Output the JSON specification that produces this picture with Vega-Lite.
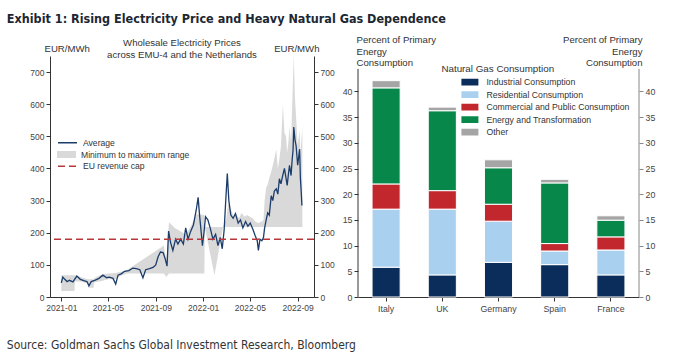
{
  "$schema": "https://vega.github.io/schema/vega-lite/v6.json",
  "padding": {"left": 6, "top": 13, "right": 4, "bottom": 4},
  "title": {"text": "Exhibit 1: Rising Electricity Price and Heavy Natural Gas Dependence", "anchor": "start", "font": "Liberation Sans Narrow, DejaVu Sans Condensed, Roboto", "fontSize": 12.5, "fontWeight": "bold", "color": "#1c2733", "offset": 9},
  "datasets": {
    "avg": [
      {"d": "2021-01-01", "v": 44}, {"d": "2021-01-05", "v": 62}, {"d": "2021-01-10", "v": 55}, {"d": "2021-01-16", "v": 48},
      {"d": "2021-01-22", "v": 52}, {"d": "2021-01-31", "v": 47}, {"d": "2021-02-10", "v": 65}, {"d": "2021-02-19", "v": 55},
      {"d": "2021-03-02", "v": 50}, {"d": "2021-03-08", "v": 48}, {"d": "2021-03-13", "v": 35}, {"d": "2021-03-19", "v": 48},
      {"d": "2021-03-28", "v": 52}, {"d": "2021-04-08", "v": 58}, {"d": "2021-04-18", "v": 68}, {"d": "2021-04-28", "v": 60},
      {"d": "2021-05-05", "v": 62}, {"d": "2021-05-14", "v": 58}, {"d": "2021-05-21", "v": 40}, {"d": "2021-05-27", "v": 68},
      {"d": "2021-06-04", "v": 72}, {"d": "2021-06-13", "v": 80}, {"d": "2021-06-24", "v": 82}, {"d": "2021-07-04", "v": 90},
      {"d": "2021-07-13", "v": 88}, {"d": "2021-07-22", "v": 85}, {"d": "2021-07-30", "v": 60}, {"d": "2021-08-06", "v": 85},
      {"d": "2021-08-16", "v": 88}, {"d": "2021-08-25", "v": 92}, {"d": "2021-09-01", "v": 100}, {"d": "2021-09-07", "v": 125},
      {"d": "2021-09-13", "v": 140}, {"d": "2021-09-20", "v": 138}, {"d": "2021-09-25", "v": 120}, {"d": "2021-09-30", "v": 96},
      {"d": "2021-10-04", "v": 205}, {"d": "2021-10-09", "v": 170}, {"d": "2021-10-15", "v": 145}, {"d": "2021-10-22", "v": 180},
      {"d": "2021-10-28", "v": 165}, {"d": "2021-11-04", "v": 180}, {"d": "2021-11-11", "v": 165}, {"d": "2021-11-17", "v": 215},
      {"d": "2021-11-23", "v": 180}, {"d": "2021-11-30", "v": 205}, {"d": "2021-12-07", "v": 225}, {"d": "2021-12-14", "v": 270},
      {"d": "2021-12-19", "v": 310}, {"d": "2021-12-23", "v": 250}, {"d": "2021-12-27", "v": 200}, {"d": "2021-12-30", "v": 160},
      {"d": "2022-01-03", "v": 200}, {"d": "2022-01-07", "v": 250}, {"d": "2022-01-13", "v": 240}, {"d": "2022-01-19", "v": 215},
      {"d": "2022-01-26", "v": 180}, {"d": "2022-02-02", "v": 195}, {"d": "2022-02-08", "v": 160}, {"d": "2022-02-14", "v": 185},
      {"d": "2022-02-19", "v": 150}, {"d": "2022-02-24", "v": 210}, {"d": "2022-02-28", "v": 300}, {"d": "2022-03-04", "v": 384},
      {"d": "2022-03-08", "v": 300}, {"d": "2022-03-13", "v": 255}, {"d": "2022-03-19", "v": 245}, {"d": "2022-03-25", "v": 260},
      {"d": "2022-04-01", "v": 230}, {"d": "2022-04-07", "v": 240}, {"d": "2022-04-13", "v": 215}, {"d": "2022-04-20", "v": 235},
      {"d": "2022-04-26", "v": 220}, {"d": "2022-05-02", "v": 230}, {"d": "2022-05-09", "v": 210}, {"d": "2022-05-15", "v": 190},
      {"d": "2022-05-20", "v": 175}, {"d": "2022-05-23", "v": 145}, {"d": "2022-05-27", "v": 180}, {"d": "2022-06-01", "v": 175},
      {"d": "2022-06-05", "v": 185}, {"d": "2022-06-08", "v": 215}, {"d": "2022-06-12", "v": 240}, {"d": "2022-06-16", "v": 262},
      {"d": "2022-06-20", "v": 255}, {"d": "2022-06-25", "v": 315}, {"d": "2022-06-29", "v": 300}, {"d": "2022-07-03", "v": 330},
      {"d": "2022-07-08", "v": 337}, {"d": "2022-07-12", "v": 320}, {"d": "2022-07-16", "v": 368}, {"d": "2022-07-20", "v": 352},
      {"d": "2022-07-24", "v": 375}, {"d": "2022-07-29", "v": 400}, {"d": "2022-08-02", "v": 370}, {"d": "2022-08-05", "v": 347},
      {"d": "2022-08-08", "v": 380}, {"d": "2022-08-11", "v": 410}, {"d": "2022-08-15", "v": 378}, {"d": "2022-08-18", "v": 430},
      {"d": "2022-08-20", "v": 455}, {"d": "2022-08-22", "v": 529}, {"d": "2022-08-25", "v": 490}, {"d": "2022-08-28", "v": 470},
      {"d": "2022-09-01", "v": 410}, {"d": "2022-09-04", "v": 440}, {"d": "2022-09-06", "v": 460}, {"d": "2022-09-08", "v": 370},
      {"d": "2022-09-10", "v": 330}, {"d": "2022-09-12", "v": 285}
    ],
    "band": [
      {"d": "2021-01-01", "lo": 19, "hi": 68}, {"d": "2021-02-04", "lo": 19, "hi": 68}, {"d": "2021-02-05", "lo": 48, "hi": 68},
      {"d": "2021-02-20", "lo": 48, "hi": 62}, {"d": "2021-03-10", "lo": 42, "hi": 55}, {"d": "2021-03-12", "lo": 29, "hi": 55},
      {"d": "2021-03-25", "lo": 29, "hi": 55}, {"d": "2021-03-26", "lo": 45, "hi": 58}, {"d": "2021-04-15", "lo": 50, "hi": 70},
      {"d": "2021-05-01", "lo": 55, "hi": 73}, {"d": "2021-05-20", "lo": 55, "hi": 75}, {"d": "2021-06-01", "lo": 65, "hi": 78},
      {"d": "2021-06-20", "lo": 73, "hi": 85}, {"d": "2021-09-22", "lo": 73, "hi": 160}, {"d": "2021-09-28", "lo": 62, "hi": 110},
      {"d": "2021-10-05", "lo": 73, "hi": 233}, {"d": "2021-10-20", "lo": 73, "hi": 215}, {"d": "2021-11-10", "lo": 73, "hi": 200},
      {"d": "2021-11-18", "lo": 73, "hi": 197}, {"d": "2021-11-28", "lo": 73, "hi": 215}, {"d": "2021-12-08", "lo": 73, "hi": 240},
      {"d": "2021-12-15", "lo": 73, "hi": 258}, {"d": "2022-01-04", "lo": 73, "hi": 255}, {"d": "2022-01-05", "lo": 218, "hi": 218},
      {"d": "2022-01-30", "lo": 68, "hi": 218}, {"d": "2022-02-21", "lo": 218, "hi": 218}, {"d": "2022-03-01", "lo": 218, "hi": 240},
      {"d": "2022-03-06", "lo": 218, "hi": 290}, {"d": "2022-03-10", "lo": 218, "hi": 280}, {"d": "2022-03-15", "lo": 218, "hi": 268},
      {"d": "2022-03-20", "lo": 218, "hi": 250}, {"d": "2022-03-27", "lo": 218, "hi": 258}, {"d": "2022-04-03", "lo": 218, "hi": 245},
      {"d": "2022-04-10", "lo": 218, "hi": 262}, {"d": "2022-04-17", "lo": 218, "hi": 250}, {"d": "2022-04-24", "lo": 218, "hi": 255},
      {"d": "2022-05-01", "lo": 218, "hi": 250}, {"d": "2022-05-08", "lo": 218, "hi": 245}, {"d": "2022-05-15", "lo": 218, "hi": 235},
      {"d": "2022-05-22", "lo": 218, "hi": 230}, {"d": "2022-06-01", "lo": 218, "hi": 235}, {"d": "2022-06-05", "lo": 218, "hi": 240},
      {"d": "2022-06-08", "lo": 218, "hi": 300}, {"d": "2022-06-12", "lo": 218, "hi": 340}, {"d": "2022-06-16", "lo": 218, "hi": 350},
      {"d": "2022-06-20", "lo": 218, "hi": 370}, {"d": "2022-06-25", "lo": 218, "hi": 390}, {"d": "2022-06-29", "lo": 218, "hi": 410},
      {"d": "2022-07-03", "lo": 218, "hi": 430}, {"d": "2022-07-08", "lo": 218, "hi": 460}, {"d": "2022-07-12", "lo": 218, "hi": 400},
      {"d": "2022-07-16", "lo": 218, "hi": 430}, {"d": "2022-07-20", "lo": 218, "hi": 470}, {"d": "2022-07-25", "lo": 218, "hi": 598},
      {"d": "2022-07-29", "lo": 218, "hi": 510}, {"d": "2022-08-02", "lo": 218, "hi": 500}, {"d": "2022-08-05", "lo": 218, "hi": 450},
      {"d": "2022-08-08", "lo": 218, "hi": 480}, {"d": "2022-08-11", "lo": 218, "hi": 530}, {"d": "2022-08-15", "lo": 218, "hi": 480},
      {"d": "2022-08-18", "lo": 218, "hi": 600}, {"d": "2022-08-22", "lo": 218, "hi": 752}, {"d": "2022-08-25", "lo": 218, "hi": 620},
      {"d": "2022-08-28", "lo": 218, "hi": 560}, {"d": "2022-09-01", "lo": 218, "hi": 470}, {"d": "2022-09-04", "lo": 218, "hi": 500},
      {"d": "2022-09-06", "lo": 218, "hi": 520}, {"d": "2022-09-08", "lo": 218, "hi": 440}, {"d": "2022-09-10", "lo": 218, "hi": 480},
      {"d": "2022-09-13", "lo": 218, "hi": 524}
    ],
    "gas": [
      {"country": "Italy", "cat": "Industrial Consumption", "k": 1, "v": 5.8},
      {"country": "Italy", "cat": "Residential Consumption", "k": 2, "v": 11.3},
      {"country": "Italy", "cat": "Commercial and Public Consumption", "k": 3, "v": 4.9},
      {"country": "Italy", "cat": "Energy and Transformation", "k": 4, "v": 18.7},
      {"country": "Italy", "cat": "Other", "k": 5, "v": 1.4},
      {"country": "UK", "cat": "Industrial Consumption", "k": 1, "v": 4.3},
      {"country": "UK", "cat": "Residential Consumption", "k": 2, "v": 12.8},
      {"country": "UK", "cat": "Commercial and Public Consumption", "k": 3, "v": 3.6},
      {"country": "UK", "cat": "Energy and Transformation", "k": 4, "v": 15.55},
      {"country": "UK", "cat": "Other", "k": 5, "v": 0.7},
      {"country": "Germany", "cat": "Industrial Consumption", "k": 1, "v": 6.75},
      {"country": "Germany", "cat": "Residential Consumption", "k": 2, "v": 8.0},
      {"country": "Germany", "cat": "Commercial and Public Consumption", "k": 3, "v": 3.3},
      {"country": "Germany", "cat": "Energy and Transformation", "k": 4, "v": 7.1},
      {"country": "Germany", "cat": "Other", "k": 5, "v": 1.55},
      {"country": "Spain", "cat": "Industrial Consumption", "k": 1, "v": 6.3},
      {"country": "Spain", "cat": "Residential Consumption", "k": 2, "v": 2.65},
      {"country": "Spain", "cat": "Commercial and Public Consumption", "k": 3, "v": 1.45},
      {"country": "Spain", "cat": "Energy and Transformation", "k": 4, "v": 11.8},
      {"country": "Spain", "cat": "Other", "k": 5, "v": 0.7},
      {"country": "France", "cat": "Industrial Consumption", "k": 1, "v": 4.3},
      {"country": "France", "cat": "Residential Consumption", "k": 2, "v": 4.85},
      {"country": "France", "cat": "Commercial and Public Consumption", "k": 3, "v": 2.55},
      {"country": "France", "cat": "Energy and Transformation", "k": 4, "v": 3.25},
      {"country": "France", "cat": "Other", "k": 5, "v": 0.85}
    ]
  },
  "vconcat": [
    {
      "title": {"text": "Source: Goldman Sachs Global Investment Research, Bloomberg", "orient": "bottom", "anchor": "start", "font": "Liberation Sans Narrow, DejaVu Sans Condensed, Roboto", "fontSize": 12, "fontWeight": "normal", "color": "#333333", "dx": -23, "offset": 27},
      "spacing": 7,
      "resolve": {"scale": {"color": "independent"}, "legend": {"color": "independent"}},
      "hconcat": [
        {
          "width": 264,
          "height": 241,
          "title": {"text": ["Wholesale Electricity Prices", "across EMU-4 and the Netherlands"], "fontSize": 9.6, "fontWeight": "normal", "color": "#333333", "anchor": "middle", "offset": -17, "lineHeight": 12},
          "layer": [
            {
              "data": {"name": "band"},
              "mark": {"type": "area", "opacity": 1},
              "encoding": {
                "x": {"field": "d", "type": "temporal",
                  "scale": {"type": "utc", "domain": [{"year": 2020, "month": 12, "date": 3, "utc": true}, {"year": 2022, "month": 10, "date": 13, "utc": true}]},
                  "axis": {"title": null, "format": "%Y-%m", "labelFlush": false,
                    "values": [{"year": 2021, "month": 1, "date": 1, "utc": true}, {"year": 2021, "month": 5, "date": 1, "utc": true}, {"year": 2021, "month": 9, "date": 1, "utc": true}, {"year": 2022, "month": 1, "date": 1, "utc": true}, {"year": 2022, "month": 5, "date": 1, "utc": true}, {"year": 2022, "month": 9, "date": 1, "utc": true}]}},
                "y": {"field": "lo", "type": "quantitative", "scale": {"domain": [0, 750], "nice": false},
                  "axis": {"orient": "left", "values": [0, 100, 200, 300, 400, 500, 600, 700], "title": "EUR/MWh", "titleAngle": 0, "titleAlign": "left", "titleBaseline": "alphabetic", "titleX": -6, "titleY": -5}},
                "y2": {"field": "hi"},
                "fill": {"datum": "Minimum to maximum range",
                  "scale": {"domain": ["Minimum to maximum range"], "range": ["#d9d9d9"]},
                  "legend": {"title": null, "orient": "none", "legendX": 7, "legendY": 93, "padding": 0, "clipHeight": 11,
                    "symbolType": "M-1,-0.36H1V0.36H-1Z", "symbolSize": 361, "symbolStrokeWidth": 0,
                    "labelOffset": 5, "labelFontSize": 8.6, "labelColor": "#333333"}}
              }
            },
            {
              "data": {"name": "avg"},
              "mark": {"type": "line", "strokeWidth": 1.3},
              "encoding": {
                "x": {"field": "d", "type": "temporal"},
                "y": {"field": "v", "type": "quantitative", "scale": {"domain": [0, 750], "nice": false},
                  "axis": {"orient": "right", "values": [0, 100, 200, 300, 400, 500, 600, 700], "title": "EUR/MWh", "titleAngle": 0, "titleAlign": "right", "titleBaseline": "alphabetic", "titleX": 5, "titleY": -5}},
                "stroke": {"datum": "Average",
                  "scale": {"domain": ["Average"], "range": ["#1c3d6b"]},
                  "legend": {"title": null, "orient": "none", "legendX": 7, "legendY": 81.3, "padding": 0, "clipHeight": 11,
                    "symbolType": "stroke", "symbolSize": 361, "symbolStrokeWidth": 1.5,
                    "labelOffset": 5, "labelFontSize": 8.6, "labelColor": "#333333"}}
              }
            },
            {
              "data": {"values": [{}]},
              "mark": {"type": "rule", "strokeWidth": 1.5, "color": "#b9363a"},
              "encoding": {
                "y": {"datum": 180, "axis": null},
                "strokeDash": {"datum": "EU revenue cap",
                  "scale": {"domain": ["EU revenue cap"], "range": [[7, 4]]},
                  "legend": {"title": null, "orient": "none", "legendX": 7, "legendY": 104.7, "padding": 0, "clipHeight": 11,
                    "symbolType": "stroke", "symbolSize": 361, "symbolStrokeWidth": 1.5, "symbolStrokeColor": "#b9363a",
                    "labelOffset": 5, "labelFontSize": 8.6, "labelColor": "#333333"}}
              }
            }
          ],
          "resolve": {"axis": {"y": "independent"}}
        },
        {
          "width": 281,
          "height": 241,
          "layer": [
            {
              "data": {"name": "gas"},
              "mark": {"type": "bar", "stroke": "white", "strokeWidth": 1},
              "encoding": {
                "x": {"field": "country", "type": "nominal", "sort": ["Italy", "UK", "Germany", "Spain", "France"],
                  "scale": {"paddingInner": 0.5, "paddingOuter": 0.25},
                  "axis": {"title": null, "labelAngle": 0, "labelFontSize": 8.8, "labelPadding": 3}},
                "y": {"field": "v", "type": "quantitative", "stack": "zero", "scale": {"domain": [0, 46.9], "nice": false},
                  "axis": {"orient": "left", "values": [0, 5, 10, 15, 20, 25, 30, 35, 40], "domain": false, "labelFontSize": 8.8,
                    "title": ["Percent of Primary", "Energy", "Consumption"], "titleAngle": 0, "titleAlign": "left", "titleBaseline": "top", "titleX": -2, "titleY": -21.4, "titleLineHeight": 11.5}},
                "color": {"field": "cat", "type": "nominal",
                  "scale": {"domain": ["Industrial Consumption", "Residential Consumption", "Commercial and Public Consumption", "Energy and Transformation", "Other"],
                    "range": ["#0b2d5b", "#a9d0ef", "#c1272d", "#07884a", "#a5a5a5"]},
                  "legend": {"title": "Natural Gas Consumption", "orient": "none", "legendX": 83.4, "legendY": 8.3, "padding": 0,
                    "titleFontSize": 9.8, "titleFontWeight": "normal", "titleColor": "#333333", "titlePadding": 2,
                    "symbolType": "M-1,-0.4H1V0.4H-1Z", "symbolSize": 289, "symbolOffset": 20, "symbolStrokeWidth": 0,
                    "clipHeight": 12, "rowPadding": 0.5, "labelOffset": 8, "labelFontSize": 8.7, "labelColor": "#333333"}},
                "order": {"field": "k"}
              }
            },
            {
              "data": {"values": [{"edge": 0}, {"edge": 1}]},
              "mark": {"type": "rule", "strokeWidth": 1},
              "encoding": {
                "x": {"field": "edge", "type": "quantitative", "scale": {"domain": [0, 1], "nice": false, "zero": false}, "axis": null},
                "y": {"datum": 0, "type": "quantitative", "scale": {"domain": [0, 46.9], "nice": false},
                  "axis": {"orient": "right", "values": [0, 5, 10, 15, 20, 25, 30, 35, 40], "domain": false, "labelFontSize": 8.8, "tickColor": "#888888",
                    "title": ["Percent of Primary", "Energy", "Consumption"], "titleAngle": 0, "titleAlign": "right", "titleBaseline": "top", "titleX": 3, "titleY": -21.4, "titleLineHeight": 11.5}},
                "y2": {"datum": 44.4},
                "color": {"condition": {"test": "datum.edge == 1", "value": "#888888"}, "value": "#333333"}
              }
            }
          ],
          "resolve": {"scale": {"x": "independent"}, "axis": {"y": "independent", "x": "independent"}}
        }
      ]
    }
  ],
  "config": {
    "view": {"stroke": null},
    "font": "Liberation Sans",
    "axis": {"grid": false, "labelFont": "Liberation Sans", "labelColor": "#444444", "labelFontSize": 8.5, "tickColor": "#333333", "domainColor": "#333333", "tickSize": 4, "labelPadding": 2,
      "titleFont": "Liberation Sans", "titleFontWeight": "normal", "titleFontSize": 9.6, "titleColor": "#333333"},
    "legend": {"labelFont": "Liberation Sans", "titleFont": "Liberation Sans"},
    "title": {"font": "Liberation Sans"}
  }
}
